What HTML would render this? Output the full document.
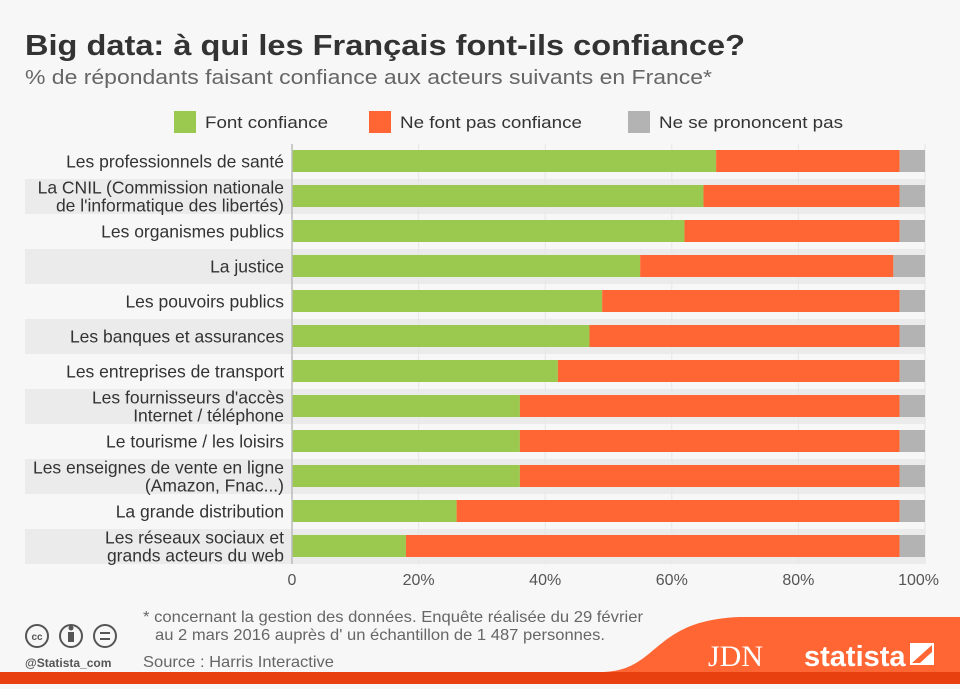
<!DOCTYPE html>
<html><head><meta charset="utf-8"><style>
body{margin:0;width:960px;height:684px;overflow:hidden;background:#f7f7f7;font-family:"Liberation Sans",sans-serif;}
</style></head><body>
<svg width="960" height="684" xmlns="http://www.w3.org/2000/svg">
<rect width="960" height="684" fill="#f7f7f7"/>
<text x="25" y="55" font-size="29" font-weight="bold" fill="#333" textLength="720" lengthAdjust="spacingAndGlyphs">Big data: à qui les Français font-ils confiance?</text>
<text x="25" y="84" font-size="20" fill="#666" textLength="687" lengthAdjust="spacingAndGlyphs">% de répondants faisant confiance aux acteurs suivants en France*</text>
<g>
<rect x="174" y="111" width="22" height="22" fill="#9bc94f"/>
<text x="205" y="128" font-size="17" fill="#333" textLength="123" lengthAdjust="spacingAndGlyphs">Font confiance</text>
<rect x="369" y="111" width="22" height="22" fill="#ff6633"/>
<text x="400" y="128" font-size="17" fill="#333" textLength="182" lengthAdjust="spacingAndGlyphs">Ne font pas confiance</text>
<rect x="628" y="111" width="22" height="22" fill="#b3b3b3"/>
<text x="659" y="128" font-size="17" fill="#333" textLength="184" lengthAdjust="spacingAndGlyphs">Ne se prononcent pas</text>
</g>
<g id="plot"></g>
<g>
<g fill="none" stroke="#555" stroke-width="2">
<circle cx="37" cy="636" r="11"/>
<circle cx="71" cy="636" r="11"/>
<circle cx="105" cy="636" r="11"/>
</g>
<text x="37" y="640" font-size="10" font-weight="bold" fill="#555" text-anchor="middle">cc</text>
<rect x="68" y="632" width="6" height="10" fill="#555"/><circle cx="71" cy="628" r="2.5" fill="#555"/>
<rect x="100" y="632" width="10" height="2" fill="#555"/><rect x="100" y="638" width="10" height="2" fill="#555"/>
<text x="25" y="667" font-size="12" font-weight="bold" fill="#555">@Statista_com</text>
<text x="143" y="622" font-size="16" fill="#666" textLength="500" lengthAdjust="spacingAndGlyphs">* concernant la gestion des données. Enquête réalisée du 29 février</text>
<text x="155" y="640" font-size="16" fill="#666" textLength="450" lengthAdjust="spacingAndGlyphs">au 2 mars 2016 auprès d' un échantillon de 1 487 personnes.</text>
<text x="143" y="667" font-size="16" fill="#666" textLength="191" lengthAdjust="spacingAndGlyphs">Source : Harris Interactive</text>
<path d="M600 684 L600 672 C660 672 650 620 740 617 L960 617 L960 684 Z" fill="#ff6633"/>
<rect x="0" y="672" width="960" height="12" fill="#e8400f"/>
<text x="708" y="666" font-size="30" font-family="Liberation Serif,serif" fill="#fff">JDN</text>
<text x="804" y="666" font-size="29" font-weight="bold" fill="#fff">statista</text>
<path d="M910 643 h24 v22 h-24 z" fill="#fff"/><path d="M912 663 L932 645 V652 L920 663 Z" fill="#ff6633"/>
</g>
</svg>
<script>
const categories=[["Les professionnels de santé"],["La CNIL (Commission nationale","de l'informatique des libertés)"],["Les organismes publics"],["La justice"],["Les pouvoirs publics"],["Les banques et assurances"],["Les entreprises de transport"],["Les fournisseurs d'accès","Internet / téléphone"],["Le tourisme / les loisirs"],["Les enseignes de vente en ligne","(Amazon, Fnac...)"],["La grande distribution"],["Les réseaux sociaux et","grands acteurs du web"]];
const trust=[67,65,62,55,49,47,42,36,36,36,26,18];
const distrust=[29,31,34,40,47,49,54,60,60,60,70,78];
const tickLabels=["0","20%","40%","60%","80%","100%"];
const tickValues=[0,20,40,60,80,100];
const NS="http://www.w3.org/2000/svg";
const g=document.getElementById('plot');
const x0=292,x1=925,top0=144,rowH=35;
const xs=v=>x0+(x1-x0)*v/100;
const ys=i=>top0+i*rowH;
function el(t,a){const e=document.createElementNS(NS,t);for(const k in a)e.setAttribute(k,a[k]);g.appendChild(e);return e;}
categories.forEach((c,i)=>{if(i%2===1){const r=el('rect',{x:25,y:ys(i),width:x1-25,height:rowH,fill:'#ebebeb'});

}});
tickValues.forEach((v,i)=>{if(i>0){const l=el('line',{x1:xs(v),x2:xs(v),y1:top0,y2:top0+rowH*12,stroke:'#e6e6e6','stroke-width':1});

}
const t=el('text',{x:xs(v),y:585,'font-size':16,fill:'#555','text-anchor':i===5?'end':'middle'});t.textContent=tickLabels[i];if(i===5)t.setAttribute('x',xs(v)+14);

});
categories.forEach((c,i)=>{const y=ys(i)+6,h=22;
const a=el('rect',{x:xs(0),y:y,width:xs(trust[i])-xs(0),height:h,fill:'#9bc94f'});


const b=el('rect',{x:xs(trust[i]),y:y,width:xs(trust[i]+distrust[i])-xs(trust[i]),height:h,fill:'#ff6633'});


const u=el('rect',{x:xs(trust[i]+distrust[i]),y:y,width:xs(100)-xs(trust[i]+distrust[i]),height:h,fill:'#b3b3b3'});


const cy=ys(i)+rowH/2;
c.forEach((line,j)=>{const t=el('text',{x:284,y:cy+6+(c.length===2?(j===0?-9:9):0),'font-size':17.5,fill:'#333','text-anchor':'end'});t.textContent=line;

});});
const ax=el('line',{x1:x0,x2:x0,y1:top0,y2:top0+rowH*12,stroke:'#bbb','stroke-width':1.5});


</script>
</body></html>
